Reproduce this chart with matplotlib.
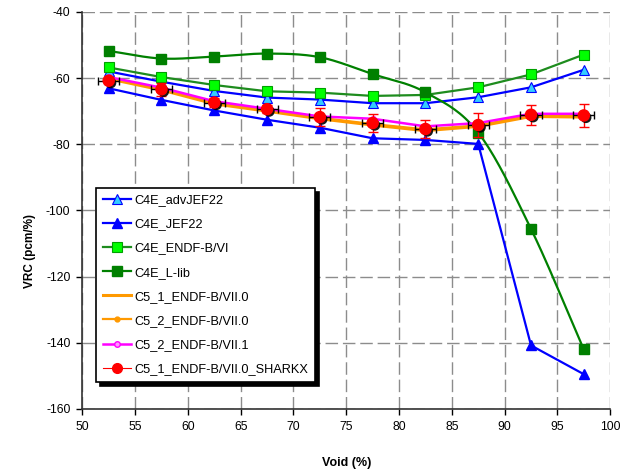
import numpy as np
import matplotlib
matplotlib.use('Agg')
from matplotlib import pyplot as plt
from matplotlib import patheffects as pe

plt.rcParams['font.family'] = ['Liberation Sans', 'DejaVu Sans']
plt.rcParams['axes.unicode_minus'] = False

void = [52.5, 57.5, 62.5, 67.5, 72.5, 77.5, 82.5, 87.5, 92.5, 97.5]

c4e_advjef22 = [-58.0, -61.1, -63.9, -65.9, -66.5, -67.6, -67.6, -65.8, -62.8, -57.5]
c4e_jef22 = [-63.1, -66.6, -69.8, -72.6, -75.0, -78.2, -78.7, -79.9, -140.8, -149.5]
c4e_endfb6 = [-56.8, -59.7, -62.1, -64.0, -64.4, -65.4, -65.1, -62.8, -58.9, -52.9]
c4e_llib = [-51.8, -54.1, -53.5, -52.6, -53.7, -58.8, -64.3, -76.5, -105.6, -142.0]
c5_1_endfb70 = [-60.2, -63.6, -67.8, -70.0, -72.3, -74.2, -75.9, -74.6, -71.6, -71.8]
c5_2_endfb70 = [-60.0, -63.3, -67.5, -69.7, -72.0, -73.9, -75.5, -74.3, -71.3, -71.5]
c5_2_endfb71 = [-59.7, -62.9, -67.0, -69.3, -71.6, -72.3, -74.6, -73.6, -70.8, -70.8]
c5_1_sharkx = [-60.8, -63.4, -67.4, -69.4, -71.8, -73.6, -75.4, -74.2, -71.1, -71.3]
sharkx_yerr = [1.0, 2.0, 1.3, 1.3, 2.7, 2.6, 2.8, 3.6, 3.0, 3.6]
sharkx_xerr = 1.0


def smooth(x, y, n=20):
    # Catmull-Rom curve through the points, like a spreadsheet "smoothed line"
    x = np.asarray(x, float)
    y = np.asarray(y, float)
    px = np.concatenate([[2 * x[0] - x[1]], x, [2 * x[-1] - x[-2]]])
    py = np.concatenate([[2 * y[0] - y[1]], y, [2 * y[-1] - y[-2]]])
    xs, ys = [], []
    t = np.linspace(0, 1, n, endpoint=False)
    for i in range(1, len(px) - 2):
        for p, out in ((px, xs), (py, ys)):
            p0, p1, p2, p3 = p[i - 1], p[i], p[i + 1], p[i + 2]
            out.extend(0.5 * (2 * p1 + (-p0 + p2) * t
                              + (2 * p0 - 5 * p1 + 4 * p2 - p3) * t ** 2
                              + (-p0 + 3 * p1 - 3 * p2 + p3) * t ** 3))
    xs.append(x[-1])
    ys.append(y[-1])
    return xs, ys


fig = plt.figure(figsize=(6.33, 4.75), dpi=100)
ax = fig.add_axes([0.130, 0.139, 0.834, 0.836])

ax.plot(void, c4e_advjef22, '-^', color='#0000ff', lw=1.6, ms=7,
        mfc='#33ccff', mec='#0000ff', mew=0.8, label='C4E_advJEF22', zorder=4)
ax.plot(void, c4e_jef22, '-^', color='#0000ff', lw=1.6, ms=7,
        mfc='#0000ff', mec='#0000ff', label='C4E_JEF22', zorder=4)
ax.plot(void, c4e_endfb6, '-s', color='#1e8c1e', lw=1.6, ms=7,
        mfc='#00ff00', mec='#00a000', mew=0.8, label='C4E_ENDF-B/VI', zorder=4)
sx, sy = smooth(void, c4e_llib)
ax.plot(sx, sy, '-', color='#008000', lw=1.6, zorder=4)
ax.plot(void, c4e_llib, 's', color='#008000', ms=7, zorder=4)
ax.plot([], [], '-s', color='#008000', lw=1.6, ms=7, label='C4E_L-lib')

ax.plot(void, c5_1_endfb70, '-', color='#ff9900', lw=2.2, label='C5_1_ENDF-B/VII.0', zorder=5)
ax.plot(void, c5_2_endfb70, '-o', color='#ff9900', lw=1.6, ms=3.5,
        label='C5_2_ENDF-B/VII.0', zorder=5)
ax.plot(void, c5_2_endfb71, '-o', color='#ff00ff', lw=1.8, ms=4,
        mfc='#ff99ff', mec='#ff00ff', label='C5_2_ENDF-B/VII.1', zorder=6)

ax.errorbar(void, c5_1_sharkx, yerr=sharkx_yerr, fmt='none', ecolor='#ff0000',
            elinewidth=1, capsize=3.5, zorder=7)
ax.errorbar(void, c5_1_sharkx, xerr=sharkx_xerr, fmt='none', ecolor='black',
            elinewidth=1, capsize=3, zorder=7)
ax.plot(void, c5_1_sharkx, 'o', color='#ff0000', ms=8, zorder=8,
        path_effects=[pe.SimplePatchShadow(offset=(1.5, -1.5), shadow_rgbFace='black', alpha=0.9),
                      pe.Normal()])
ax.plot([], [], '-o', color='#ff0000', lw=0.8, ms=7, label='C5_1_ENDF-B/VII.0_SHARKX')

ax.set_xlim(50, 100)
ax.set_ylim(-160, -40)
ax.set_xticks(np.arange(50, 101, 5))
ax.set_yticks(np.arange(-160, -39, 20))
ax.grid(True, color='#8c8c8c', linestyle=(0, (9, 3.5)), linewidth=1)
ax.set_axisbelow(True)
ax.spines['top'].set_visible(False)
ax.spines['right'].set_visible(False)
for s in ('left', 'bottom'):
    ax.spines[s].set_linewidth(1.2)
    ax.spines[s].set_color('#333333')
ax.tick_params(direction='out', length=4, width=1, labelsize=8.8)
ax.tick_params(axis='x', pad=4.5)
ax.tick_params(axis='y', pad=4.5)

ax.set_xlabel('Void (%)', fontsize=9, fontweight='bold')
ax.xaxis.set_label_coords(0.5, -0.122)
ax.set_ylabel('VRC (pcm/%)', fontsize=8.5, fontweight='bold')
ax.yaxis.set_label_coords(-0.088, 0.398)

leg = ax.legend(loc='lower left', bbox_to_anchor=(0.0265, 0.069), fontsize=9.2,
                frameon=True, fancybox=False, handlelength=2.2, labelspacing=0.95,
                borderpad=0.5, handletextpad=0.3, borderaxespad=0,
                shadow={'color': 'black', 'alpha': 1, 'ox': 3, 'oy': -3})
leg.get_frame().set_edgecolor('black')
leg.get_frame().set_linewidth(1.2)
leg.set_zorder(10)

fig.savefig('out.png', dpi=100)
